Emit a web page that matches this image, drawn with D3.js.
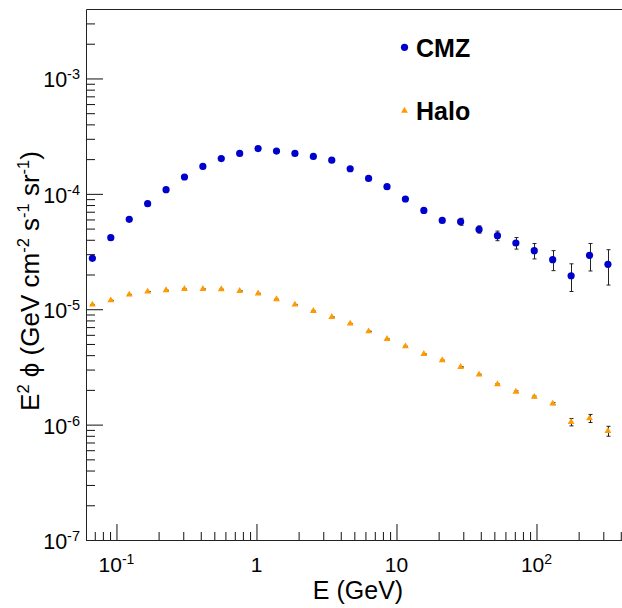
<!DOCTYPE html>
<html>
<head>
<meta charset="utf-8">
<script src="https://cdn.jsdelivr.net/npm/d3@7"></script>
<style>
body { margin: 0; background: #fff; }
svg { display: block; font-family: "Liberation Sans", Arial, Helvetica, sans-serif; }
</style>
</head>
<body>
<div id="chart"></div>
<script>
var W = 622, H = 608;

// energy bin centres (GeV)
var energy = [0.0673, 0.0911, 0.1234, 0.1670, 0.2261, 0.3060, 0.4142, 0.5606, 0.7588, 1.027,
              1.390, 1.882, 2.548, 3.449, 4.669, 6.320, 8.554, 11.58, 15.68, 21.22,
              28.72, 38.88, 52.63, 71.25, 96.4, 130.5, 176.7, 239.2, 323.7];

// E^2 phi, CMZ
var cmzFlux = [2.76e-5, 4.17e-5, 6.01e-5, 8.22e-5, 1.087e-4, 1.40e-4, 1.73e-4, 2.02e-4, 2.24e-4, 2.47e-4,
               2.35e-4, 2.24e-4, 2.11e-4, 1.96e-4, 1.65e-4, 1.36e-4, 1.154e-4, 9.02e-5, 7.19e-5, 5.89e-5,
               5.74e-5, 4.92e-5, 4.34e-5, 3.75e-5, 3.22e-5, 2.69e-5, 1.95e-5, 2.93e-5, 2.45e-5];
var cmzErr = [0.05e-5, 0.06e-5, 0.07e-5, 0.08e-5, 0.09e-5, 0.10e-5, 0.11e-5, 0.12e-5, 0.12e-5, 0.13e-5,
              0.13e-5, 0.13e-5, 0.13e-5, 0.13e-5, 0.13e-5, 0.14e-5, 0.15e-5, 0.16e-5, 0.17e-5, 0.20e-5,
              0.40e-5, 0.355e-5, 0.415e-5, 0.43e-5, 0.49e-5, 0.53e-5, 0.525e-5, 0.785e-5, 0.83e-5];

// E^2 phi, Halo
var haloFlux = [1.096e-5, 1.194e-5, 1.34e-5, 1.42e-5, 1.46e-5, 1.50e-5, 1.50e-5, 1.49e-5, 1.44e-5, 1.37e-5,
                1.22e-5, 1.096e-5, 9.65e-6, 8.56e-6, 7.50e-6, 6.43e-6, 5.52e-6, 4.77e-6, 4.09e-6, 3.61e-6,
                3.16e-6, 2.71e-6, 2.24e-6, 1.93e-6, 1.74e-6, 1.52e-6, 1.053e-6, 1.134e-6, 8.80e-7];
var haloErr = [0.04e-6, 0.04e-6, 0.05e-6, 0.05e-6, 0.05e-6, 0.05e-6, 0.05e-6, 0.05e-6, 0.05e-6, 0.05e-6,
               0.04e-6, 0.04e-6, 0.04e-6, 0.04e-6, 0.04e-6, 0.03e-6, 0.03e-6, 0.03e-6, 0.03e-6, 0.03e-6,
               0.03e-6, 0.03e-6, 0.03e-6, 0.03e-6, 0.03e-6, 0.03e-6, 0.0775e-6, 0.0915e-6, 0.087e-6];

var seriesNames = ["CMZ", "Halo"];
var xMajor = [0.1, 1, 10, 100];
var yMajor = [1e-7, 1e-6, 1e-5, 1e-4, 1e-3];

var padL = 86, padR = 622, padT = 9, padB = 540;

var x = d3.scaleLog().domain([0.0606, 408]).range([padL, padR]);
var y = d3.scaleLog().domain([1e-7, 4e-3]).range([padB, padT]);

var isMajor = function(v) {
    var l = Math.log10(v);
    return Math.abs(l - Math.round(l)) < 1e-9;
};
var xMinor = x.ticks().filter(function(v) { return !isMajor(v) && v > 0.0606 && v < 408; });
var yMinor = y.ticks().filter(function(v) { return !isMajor(v) && v < 4e-3; });

var svg = d3.select("#chart")
            .append("svg")
            .attr("width", W)
            .attr("height", H);

// ticks (pointing into the frame, ROOT style)
var tickGroup = function(axis, tr) {
    svg.append("g")
        .attr("transform", tr)
        .call(axis)
        .call(function(g) { g.select(".domain").remove(); })
        .selectAll("line").attr("stroke", "#111");
};
tickGroup(d3.axisBottom(x).tickValues(xMinor).tickSize(-8).tickFormat(""), "translate(0," + padB + ")");
tickGroup(d3.axisBottom(x).tickValues(xMajor).tickSize(-16).tickFormat(""), "translate(0," + padB + ")");
tickGroup(d3.axisLeft(y).tickValues(yMinor).tickSize(-9).tickFormat(""), "translate(" + padL + ",0)");
tickGroup(d3.axisLeft(y).tickValues(yMajor).tickSize(-17).tickFormat(""), "translate(" + padL + ",0)");

// frame (right side is outside the picture)
svg.append("path")
    .attr("d", "M" + (padR + 2) + "," + (padT + 0.5) + "H" + (padL + 0.5) + "V" + (padB + 0.5) + "H" + (padR + 2))
    .attr("fill", "none")
    .attr("stroke", "#222")
    .attr("stroke-width", 1);

// tick labels
var expOf = function(v) { return Math.round(Math.log10(v)); };

svg.append("g")
    .selectAll("text")
    .data(xMajor)
    .enter()
    .append("text")
    .attr("x", function(d) { return x(d); })
    .attr("y", 572)
    .attr("text-anchor", "middle")
    .attr("font-size", 21)
    .each(function(d) {
        var t = d3.select(this), e = expOf(d);
        if (e === 0) { t.text("1"); return; }
        if (e === 1) { t.text("10"); return; }
        t.append("tspan").text("10");
        t.append("tspan").attr("dy", -8).attr("font-size", 14).text(e);
    });

svg.append("g")
    .selectAll("text")
    .data(yMajor)
    .enter()
    .append("text")
    .attr("x", 80)
    .attr("y", function(d) { return y(d) + 9; })
    .attr("text-anchor", "end")
    .attr("font-size", 21.5)
    .each(function(d) {
        var t = d3.select(this);
        t.append("tspan").text("10");
        t.append("tspan").attr("dy", -8).attr("font-size", 14.5).text(expOf(d));
    });

// axis titles
svg.append("text")
    .attr("x", 358)
    .attr("y", 599)
    .attr("text-anchor", "middle")
    .attr("font-size", 25)
    .text("E (GeV)");

var yt = svg.append("text")
    .attr("transform", "translate(39,281) rotate(-90)")
    .attr("text-anchor", "middle")
    .attr("font-size", 26);
var ytParts = [["E", 0], ["2", 1], [" \u03d5 (GeV cm", 0], ["-2", 1], [" s", 0], ["-1", 1], [" sr", 0], ["-1", 1], [")", 0]];
ytParts.forEach(function(p, i) {
    var prev = i > 0 ? ytParts[i - 1][1] : 0;
    yt.append("tspan")
        .attr("dy", (p[1] - prev) * -10)
        .attr("font-size", p[1] ? 16.5 : 26)
        .text(p[0]);
});

// data
var cmz = energy.map(function(e, i) { return {e: e, v: cmzFlux[i], err: cmzErr[i]}; });
var halo = energy.map(function(e, i) { return {e: e, v: haloFlux[i], err: haloErr[i]}; });

var drawErrors = function(data) {
    var g = svg.append("g").attr("stroke", "#222").attr("stroke-width", 1).attr("fill", "none");
    g.selectAll("path")
        .data(data)
        .enter()
        .append("path")
        .attr("d", function(d) {
            var cx = Math.round(x(d.e)) + 0.5;
            var y1 = y(d.v + d.err), y2 = y(d.v - d.err);
            return "M" + cx + "," + y1 + "V" + y2 +
                   "M" + (cx - 2) + "," + y1 + "H" + (cx + 2) +
                   "M" + (cx - 2) + "," + y2 + "H" + (cx + 2);
        });
};
drawErrors(cmz);
drawErrors(halo);

svg.append("g")
    .selectAll("circle")
    .data(cmz)
    .enter()
    .append("circle")
    .attr("cx", function(d) { return x(d.e); })
    .attr("cy", function(d) { return y(d.v); })
    .attr("r", 3.6)
    .attr("fill", "#0000cc");

var tri = d3.symbol().type(d3.symbolTriangle).size(20);
svg.append("g")
    .selectAll("path")
    .data(halo)
    .enter()
    .append("path")
    .attr("transform", function(d) { return "translate(" + x(d.e) + "," + y(d.v) + ")"; })
    .attr("d", tri)
    .attr("fill", "#ff9a00");

// legend
svg.append("circle").attr("cx", 404.5).attr("cy", 47.3).attr("r", 3.6).attr("fill", "#0000cc");
svg.append("path").attr("transform", "translate(404.5,110.7)").attr("d", tri).attr("fill", "#ff9a00");
svg.append("g")
    .selectAll("text")
    .data(seriesNames)
    .enter()
    .append("text")
    .attr("x", 416)
    .attr("y", function(d, i) { return i === 0 ? 57 : 120; })
    .attr("font-size", 25)
    .attr("font-weight", "bold")
    .text(function(d) { return d; });
</script>
</body>
</html>
